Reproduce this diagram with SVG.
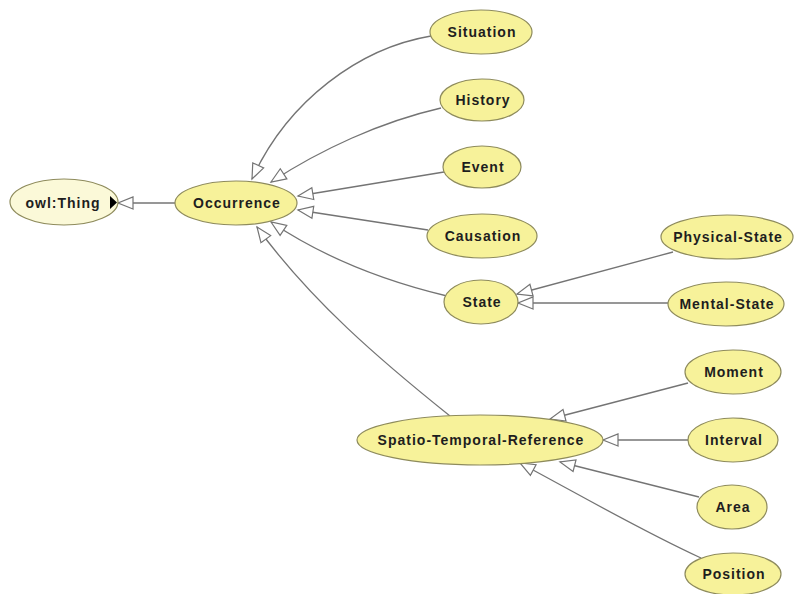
<svg xmlns="http://www.w3.org/2000/svg" width="795" height="594" viewBox="0 0 795 594">
  <style>
    .node ellipse { fill: #f7f29a; stroke: #8e8b5c; stroke-width: 1.2; }
    .node.root ellipse { fill: #fbf9d8; }
    .node text { font-family: "Liberation Sans", Arial, sans-serif; font-size: 14px; font-weight: bold; fill: #1e1e1e; letter-spacing: 1px; text-anchor: middle; dominant-baseline: central; }
    .edge { fill: none; stroke: #747474; stroke-width: 1.3; marker-end: url(#hollow); }
  </style>
  <defs>
    <!-- hollow subclass arrowhead, tip at the end of each path -->
    <marker id="hollow" viewBox="-1 -8 18 16" refX="15" refY="0" markerWidth="18" markerHeight="16" markerUnits="userSpaceOnUse" orient="auto">
      <path d="M0,-6 L15,0 L0,6 Z" fill="#ffffff" stroke="#747474" stroke-width="1.2"/>
    </marker>
  </defs>
  <rect width="795" height="594" fill="#ffffff"/>

  <g id="connectors">
    <path class="edge" d="M175,203 L118,203"/>
    <path class="edge" d="M431,36 C360,48 288,100 252,179"/>
    <path class="edge" d="M441,108 C380,122 320,150 271,182"/>
    <path class="edge" d="M444,172 L298,196"/>
    <path class="edge" d="M428,230 L298,210"/>
    <path class="edge" d="M447,296 C380,280 320,255 271,222"/>
    <path class="edge" d="M450,416 C380,360 310,300 257,227"/>
    <path class="edge" d="M673,252 L517,294"/>
    <path class="edge" d="M668,303 L518,303"/>
    <path class="edge" d="M688,383 L550,419"/>
    <path class="edge" d="M688,440 L603,440"/>
    <path class="edge" d="M699,497 L560,462"/>
    <path class="edge" d="M701,558 C640,530 580,495 520,463"/>
  </g>

  <g id="owl-thing" class="node root">
    <ellipse cx="64" cy="202" rx="54" ry="23"/>
    <text x="63" y="203">owl:Thing</text>
    <polygon points="110,196 117,202.5 110,209" fill="#000000"/>
  </g>
  <g id="occurrence" class="node">
    <ellipse cx="236" cy="203" rx="61" ry="22"/>
    <text x="237" y="203">Occurrence</text>
  </g>
  <g id="situation" class="node">
    <ellipse cx="481" cy="32" rx="51" ry="22"/>
    <text x="482" y="32">Situation</text>
  </g>
  <g id="history" class="node">
    <ellipse cx="482" cy="100" rx="42" ry="21"/>
    <text x="483" y="100">History</text>
  </g>
  <g id="event" class="node">
    <ellipse cx="482" cy="167" rx="39" ry="21"/>
    <text x="483" y="167">Event</text>
  </g>
  <g id="causation" class="node">
    <ellipse cx="482" cy="236" rx="55" ry="22"/>
    <text x="483" y="236">Causation</text>
  </g>
  <g id="state" class="node">
    <ellipse cx="481" cy="302" rx="37" ry="22"/>
    <text x="482" y="302">State</text>
  </g>
  <g id="physical-state" class="node">
    <ellipse cx="727" cy="237" rx="66" ry="22"/>
    <text x="728" y="237">Physical-State</text>
  </g>
  <g id="mental-state" class="node">
    <ellipse cx="726" cy="304" rx="58" ry="22"/>
    <text x="727" y="304">Mental-State</text>
  </g>
  <g id="spatio-temporal-reference" class="node">
    <ellipse cx="480" cy="440" rx="123" ry="25"/>
    <text x="481" y="440">Spatio-Temporal-Reference</text>
  </g>
  <g id="moment" class="node">
    <ellipse cx="733" cy="372" rx="48" ry="22"/>
    <text x="734" y="372">Moment</text>
  </g>
  <g id="interval" class="node">
    <ellipse cx="733" cy="440" rx="45" ry="22"/>
    <text x="734" y="440">Interval</text>
  </g>
  <g id="area" class="node">
    <ellipse cx="732" cy="507" rx="35" ry="22"/>
    <text x="733" y="507">Area</text>
  </g>
  <g id="position" class="node">
    <ellipse cx="733" cy="574" rx="48" ry="21"/>
    <text x="734" y="574">Position</text>
  </g>
</svg>
